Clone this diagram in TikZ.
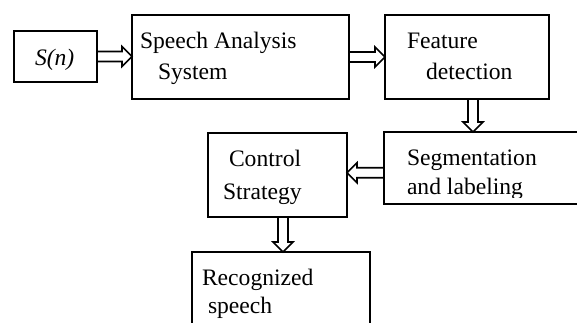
\documentclass[tikz,border=0pt]{standalone}
\usepackage{fontspec}
\setmainfont{Liberation Serif}
\usetikzlibrary{calc,fit}
\tikzset{
  box/.style={draw, line width=1pt, inner sep=0pt, outer sep=0pt},
  lbl/.style={anchor=base west, inner sep=0pt, outer sep=0pt,
              font=\fontsize{11.8}{14}\selectfont},
  blk/.style={draw, line width=0.8pt, line join=miter},
}
% hollow block arrow from #1 to #2
\newcommand\blkarrow[2]{%
  \coordinate (ba-a) at #1;
  \coordinate (ba-b) at #2;
  \coordinate (ba-h) at ($(ba-b)!5pt!(ba-a)$);
  \draw[blk] ($(ba-a)!2.5pt!90:(ba-b)$) -- ($(ba-h)!2.5pt!-90:(ba-a)$)
    -- ($(ba-h)!5pt!-90:(ba-a)$) -- (ba-b) -- ($(ba-h)!5pt!90:(ba-a)$)
    -- ($(ba-h)!2.5pt!90:(ba-a)$) -- ($(ba-a)!2.5pt!-90:(ba-b)$) -- cycle;
}
\begin{document}
\begin{tikzpicture}[x=0.5pt, y=-0.5pt]
  \clip (0,0) rectangle (577,322);

  % blocks
  \node[box, fit={(14,31) (97,82)}] (sn) {};
  \node[box, fit={(132,15) (349,99)}] (sa) {};
  \node[box, fit={(385,15) (549,99)}] (fd) {};
  \node[box, fit={(384,132) (600,203.5)}] (seg) {};
  \node[box, fit={(208,133) (347,217)}] (cs) {};
  \node[box, fit={(192,252) (370,340)}] (rs) {};

  % labels
  \node[lbl] (t-sn) at ($(sn.north west)+(21,34)$) {\textit{S(n)}};
  \node[lbl] (t-sa1) at ($(sa.north west)+(8,33)$) {Speech Analysis};
  \node[lbl] (t-sa2) at ($(sa.north west)+(26,64)$) {System};
  \node[lbl] (t-fd1) at ($(fd.north west)+(22,33)$) {Feature};
  \node[lbl] (t-fd2) at ($(fd.north west)+(41,64)$) {detection};
  \node[lbl] (t-seg1) at ($(seg.north west)+(23,33)$) {Segmentation};
  \begin{scope}
    \clip ($(seg.north west)+(2,2)$) rectangle ($(seg.south east)+(0,-6.5)$);
    \node[lbl] (t-seg2) at ($(seg.north west)+(23,62)$) {and labeling};
  \end{scope}
  \node[lbl] (t-cs1) at ($(cs.north west)+(21,33)$) {Control};
  \node[lbl] (t-cs2) at ($(cs.north west)+(15,66)$) {Strategy};
  \node[lbl] (t-rs1) at ($(rs.north west)+(10,33)$) {Recognized};
  \node[lbl] (t-rs2) at ($(rs.north west)+(16,61)$) {speech};

  % connectors
  \blkarrow{(sn.east)}{(sn.east -| sa.west)}
  \blkarrow{(sa.east)}{(sa.east -| fd.west)}
  \coordinate (fd-out) at ($(fd.south)+(6,0)$);
  \blkarrow{(fd-out)}{(fd-out |- seg.north)}
  \coordinate (seg-out) at ($(seg.west)+(0,5)$);
  \blkarrow{(seg-out)}{(seg-out -| cs.east)}
  \coordinate (cs-out) at ($(cs.south)+(5.5,0)$);
  \blkarrow{(cs-out)}{(cs-out |- rs.north)}
\end{tikzpicture}
\end{document}
